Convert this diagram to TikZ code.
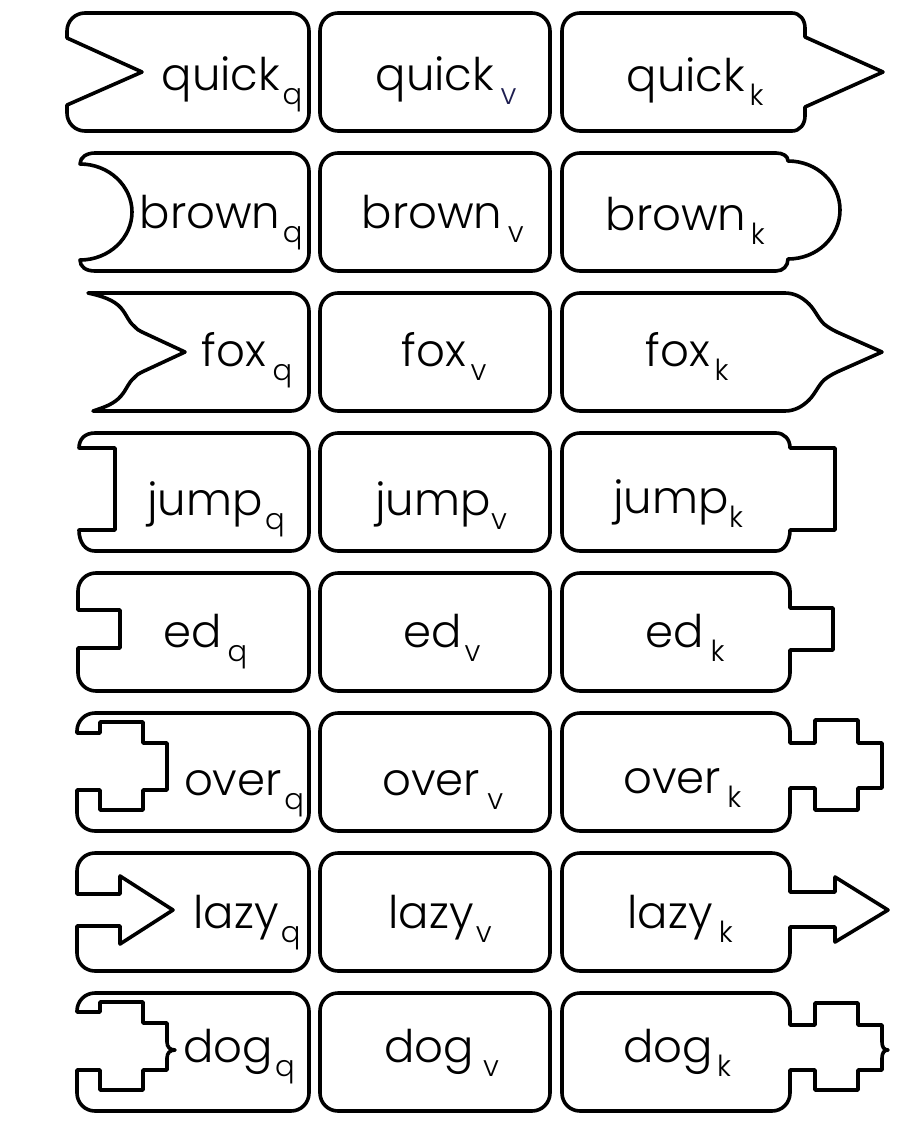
\documentclass[tikz,border=0pt]{standalone}
\usepackage{fontspec}
\setmainfont{Poppins Light}
\definecolor{navy}{RGB}{30,30,80}
\tikzset{
  piece/.style={draw=black, line width=3.6pt, line join=round},
  word/.style={anchor=base, inner sep=0pt, font=\fontsize{45}{45}\selectfont},
  subl/.style={anchor=base west, inner sep=0pt, font=\fontsize{29}{29}\selectfont},
}
\newcommand\lab[7]{%
  \node[word] (#1) at (#2,#3) {#4};
  \node[subl, xshift=#5pt, yshift=-14pt, text=#7] (#1s) at (#1.base east) {#6};}
\begin{document}
\begin{tikzpicture}[x=1pt,y=-1pt]
\useasboundingbox (0,0) rectangle (908,1125);
% ---------- row 1
\begin{scope}
\draw[piece] (85,13) -- (291,13) .. controls (301,13) and (309,21) .. (309,31) -- (309,113) .. controls (309,123) and (301,131) .. (291,131) -- (85,131) .. controls (75,131) and (67,123) .. (67,113) -- (67,105) -- (142,72) -- (67,38) -- (67,31) .. controls (67,21) and (75,13) .. (85,13) -- cycle;
\draw[piece, rounded corners=18pt] (320,13) rectangle (550,131);
\draw[piece] (580,13) -- (792,13) .. controls (800,13) and (805,20) .. (805,28) -- (805,37) -- (883,72) -- (805,107) -- (805,116) .. controls (805,124) and (800,131) .. (792,131) -- (580,131) .. controls (570,131) and (562,123) .. (562,113) -- (562,31) .. controls (562,21) and (570,13) .. (580,13) -- cycle;
\lab{q1}{221}{90}{quick}{2}{q}{black}
\lab{v1}{435}{90}{quick}{6}{v}{navy}
\lab{k1}{686}{91}{quick}{4}{k}{black}
\end{scope}
% ---------- row 2
\begin{scope}[yshift=-140pt]
\draw[piece] (95,13) -- (291,13) .. controls (301,13) and (309,21) .. (309,31) -- (309,113) .. controls (309,123) and (301,131) .. (291,131) -- (95,131) .. controls (86,131) and (80,127) .. (80,120) .. controls (109,120) and (132,98) .. (132,72) .. controls (132,46) and (109,24) .. (80,24) .. controls (80,17) and (87,13) .. (95,13) -- cycle;
\draw[piece, rounded corners=18pt] (320,13) rectangle (550,131);
\draw[piece] (580,13) -- (776,13) .. controls (783,13) and (788,16) .. (788,21) .. controls (817,21) and (840,43) .. (840,70) .. controls (840,97) and (817,119) .. (788,119) .. controls (788,126) and (783,131) .. (776,131) -- (580,131) .. controls (570,131) and (562,123) .. (562,113) -- (562,31) .. controls (562,21) and (570,13) .. (580,13) -- cycle;
\lab{q2}{210}{88}{brown}{2}{q}{black}
\lab{v2}{432}{88}{brown}{5}{v}{black}
\lab{k2}{676}{90}{brown}{4}{k}{black}
\end{scope}
% ---------- row 3
\begin{scope}[yshift=-280pt]
\draw[piece] (88,13) -- (291,13) .. controls (301,13) and (309,21) .. (309,31) -- (309,113) .. controls (309,123) and (301,131) .. (291,131) -- (93,131) .. controls (105,127) and (114,124) .. (121,116) .. controls (127,109) and (128,103) .. (134,98) .. controls (137,95) and (139,93) .. (142,92) -- (185,72) -- (142,52) .. controls (139,51) and (137,49) .. (134,46) .. controls (128,41) and (127,35) .. (121,28) .. controls (114,20) and (102,16) .. (88,13) -- cycle;
\draw[piece, rounded corners=18pt] (320,13) rectangle (550,131);
\draw[piece] (580,13) -- (785,13) .. controls (795,13) and (803,18) .. (809,24) .. controls (815,30) and (818,38) .. (824,44) .. controls (829,48) and (833,50) .. (837,52) -- (882,72) -- (837,92) .. controls (833,94) and (829,96) .. (824,100) .. controls (818,106) and (815,114) .. (809,120) .. controls (803,126) and (795,131) .. (785,131) -- (580,131) .. controls (570,131) and (562,123) .. (562,113) -- (562,31) .. controls (562,21) and (570,13) .. (580,13) -- cycle;
\lab{q3}{234}{86}{fox}{6}{q}{black}
\lab{v3}{434}{86}{fox}{4}{v}{black}
\lab{k3}{678}{86}{fox}{4}{k}{black}
\end{scope}
% ---------- row 4
\begin{scope}[yshift=-420pt]
\draw[piece] (95,13) -- (291,13) .. controls (301,13) and (309,21) .. (309,31) -- (309,113) .. controls (309,123) and (301,131) .. (291,131) -- (95,131) .. controls (85,131) and (79,122) .. (79,110) -- (115,110) -- (115,28) -- (79,28) .. controls (79,19) and (85,13) .. (95,13) -- cycle;
\draw[piece, rounded corners=18pt] (320,13) rectangle (550,131);
\draw[piece] (580,13) -- (776,13) .. controls (784,13) and (790,19) .. (790,28) -- (835,28) -- (835,110) -- (790,110) .. controls (790,122) and (784,131) .. (776,131) -- (580,131) .. controls (570,131) and (562,123) .. (562,113) -- (562,31) .. controls (562,21) and (570,13) .. (580,13) -- cycle;
\lab{q4}{205}{95}{jump}{2}{q}{black}
\lab{v4}{433}{95}{jump}{0}{v}{black}
\lab{k4}{671}{93}{jump}{0}{k}{black}
\end{scope}
% ---------- row 5
\begin{scope}[yshift=-560pt]
\draw[piece] (96,13) -- (291,13) .. controls (301,13) and (309,21) .. (309,31) -- (309,113) .. controls (309,123) and (301,131) .. (291,131) -- (96,131) .. controls (86,131) and (78,123) .. (78,113) -- (78,88) -- (120,88) -- (120,50) -- (78,50) -- (78,31) .. controls (78,21) and (86,13) .. (96,13) -- cycle;
\draw[piece, rounded corners=18pt] (320,13) rectangle (550,131);
\draw[piece] (580,13) -- (772,13) .. controls (782,13) and (790,21) .. (790,31) -- (790,48) -- (833,48) -- (833,90) -- (790,90) -- (790,113) .. controls (790,123) and (782,131) .. (772,131) -- (580,131) .. controls (570,131) and (562,123) .. (562,113) -- (562,31) .. controls (562,21) and (570,13) .. (580,13) -- cycle;
\lab{q5}{193}{87}{ed}{5}{q}{black}
\lab{v5}{433}{87}{ed}{2}{v}{black}
\lab{k5}{675}{87}{ed}{6}{k}{black}
\end{scope}
% ---------- row 6
\begin{scope}[yshift=-700pt]
\draw[piece] (95,13) -- (291,13) .. controls (301,13) and (309,21) .. (309,31) -- (309,113) .. controls (309,123) and (301,131) .. (291,131) -- (95,131) .. controls (85,131) and (77,123) .. (77,113) -- (77,90) -- (100,90) -- (100,110) -- (143,110) -- (143,90) -- (167,90) -- (167,43) -- (143,43) -- (143,22) -- (100,22) -- (100,33) -- (77,33) -- (77,31) .. controls (77,21) and (85,13) .. (95,13) -- cycle;
\draw[piece, rounded corners=18pt] (320,13) rectangle (550,131);
\draw[piece] (580,13) -- (772,13) .. controls (782,13) and (790,21) .. (790,31) -- (790,43) -- (815,43) -- (815,20) -- (858,20) -- (858,43) -- (882,43) -- (882,88) -- (858,88) -- (858,110) -- (815,110) -- (815,88) -- (790,88) -- (790,113) .. controls (790,123) and (782,131) .. (772,131) -- (580,131) .. controls (570,131) and (562,123) .. (562,113) -- (562,31) .. controls (562,21) and (570,13) .. (580,13) -- cycle;
\lab{q6}{233}{95}{over}{2}{q}{black}
\lab{v6}{431}{95}{over}{7}{v}{black}
\lab{k6}{672}{93}{over}{6}{k}{black}
\end{scope}
% ---------- row 7
\begin{scope}[yshift=-840pt]
\draw[piece] (95,13) -- (291,13) .. controls (301,13) and (309,21) .. (309,31) -- (309,113) .. controls (309,123) and (301,131) .. (291,131) -- (95,131) .. controls (85,131) and (77,123) .. (77,113) -- (77,86) -- (120,86) -- (120,104) -- (173,70) -- (120,36) -- (120,54) -- (77,54) -- (77,31) .. controls (77,21) and (85,13) .. (95,13) -- cycle;
\draw[piece, rounded corners=18pt] (320,13) rectangle (550,131);
\draw[piece] (580,13) -- (772,13) .. controls (782,13) and (790,21) .. (790,31) -- (790,52) -- (835,52) -- (835,37) -- (888,70) -- (835,102) -- (835,87) -- (790,87) -- (790,113) .. controls (790,123) and (782,131) .. (772,131) -- (580,131) .. controls (570,131) and (562,123) .. (562,113) -- (562,31) .. controls (562,21) and (570,13) .. (580,13) -- cycle;
\lab{q7}{236}{88}{lazy}{2}{q}{black}
\lab{v7}{431}{88}{lazy}{2}{v}{black}
\lab{k7}{670}{88}{lazy}{6}{k}{black}
\end{scope}
% ---------- row 8
\begin{scope}[yshift=-980pt]
\draw[piece] (95,13) -- (291,13) .. controls (301,13) and (309,21) .. (309,31) -- (309,113) .. controls (309,123) and (301,131) .. (291,131) -- (95,131) .. controls (85,131) and (77,123) .. (77,113) -- (77,90) -- (100,90) -- (100,110) -- (143,110) -- (143,90) -- (167,90) -- (167,78) .. controls (167,73) and (170,70) .. (175,70) .. controls (170,70) and (167,67) .. (167,62) -- (167,43) -- (143,43) -- (143,22) -- (100,22) -- (100,32) -- (77,32) -- (77,31) .. controls (77,21) and (85,13) .. (95,13) -- cycle;
\draw[piece, rounded corners=18pt] (320,13) rectangle (550,131);
\draw[piece] (580,13) -- (772,13) .. controls (782,13) and (790,21) .. (790,31) -- (790,45) -- (815,45) -- (815,23) -- (858,23) -- (858,45) -- (882,45) -- (882,62) .. controls (882,67) and (884,70) .. (888,70) .. controls (884,70) and (882,73) .. (882,78) -- (882,90) -- (858,90) -- (858,110) -- (815,110) -- (815,90) -- (790,90) -- (790,113) .. controls (790,123) and (782,131) .. (772,131) -- (580,131) .. controls (570,131) and (562,123) .. (562,113) -- (562,31) .. controls (562,21) and (570,13) .. (580,13) -- cycle;
\lab{q8}{228}{82}{dog}{2}{q}{black}
\lab{v8}{429}{82}{dog}{9}{v}{black}
\lab{k8}{668}{82}{dog}{4}{k}{black}
\end{scope}
\end{tikzpicture}
\end{document}
